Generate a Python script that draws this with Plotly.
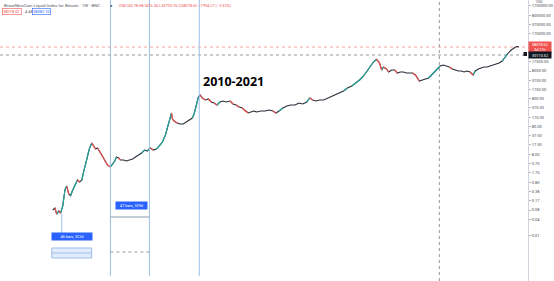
import math
import plotly.graph_objects as go

# ---- data (weekly closes, decimal years) ----
years = [2010.55, 2010.60, 2010.64, 2010.69, 2010.73, 2010.78, 2010.83, 2010.87, 2010.92, 2010.96,
         2011.01, 2011.08, 2011.12, 2011.17, 2011.22, 2011.26, 2011.31, 2011.35, 2011.40, 2011.45,
         2011.49, 2011.54, 2011.58, 2011.63, 2011.68, 2011.72, 2011.77, 2011.81, 2011.88, 2011.93,
         2011.98, 2012.02, 2012.07, 2012.11, 2012.18, 2012.25, 2012.32, 2012.39, 2012.46, 2012.53,
         2012.60, 2012.67, 2012.73, 2012.80, 2012.87, 2012.94, 2013.01, 2013.08, 2013.15, 2013.19,
         2013.24, 2013.29, 2013.31, 2013.35, 2013.42, 2013.49, 2013.56, 2013.63, 2013.70, 2013.77,
         2013.81, 2013.86, 2013.91, 2013.95, 2014.00, 2014.07, 2014.14, 2014.21, 2014.27, 2014.34,
         2014.41, 2014.48, 2014.55, 2014.64, 2014.71, 2014.78, 2014.85, 2014.92, 2014.99, 2015.06,
         2015.12, 2015.19, 2015.26, 2015.35, 2015.45, 2015.54, 2015.63, 2015.70, 2015.77, 2015.86,
         2015.95, 2016.04, 2016.14, 2016.23, 2016.32, 2016.41, 2016.48, 2016.55, 2016.62, 2016.71,
         2016.80, 2016.90, 2016.99, 2017.08, 2017.17, 2017.26, 2017.35, 2017.45, 2017.54, 2017.63,
         2017.72, 2017.81, 2017.88, 2017.95, 2018.02, 2018.09, 2018.14, 2018.18, 2018.25, 2018.30,
         2018.37, 2018.44, 2018.50, 2018.57, 2018.64, 2018.71, 2018.78, 2018.85, 2018.92, 2018.96,
         2019.01, 2019.08, 2019.15, 2019.22, 2019.29, 2019.36, 2019.42, 2019.49, 2019.56, 2019.63,
         2019.70, 2019.77, 2019.84, 2019.91, 2019.98, 2020.04, 2020.11, 2020.18, 2020.25, 2020.30,
         2020.37, 2020.44, 2020.50, 2020.57, 2020.64, 2020.71, 2020.78, 2020.85, 2020.92, 2020.99,
         2021.03, 2021.08, 2021.13, 2021.17, 2021.22, 2021.26, 2021.31]
prices = [0.080, 0.094, 0.057, 0.074, 0.062, 0.111, 0.42, 0.58, 0.30, 0.26,
          0.42, 0.69, 0.96, 0.81, 0.96, 1.86, 3.61, 7.0, 13.6, 20.6,
          16.0, 12.5, 13.6, 10.6, 7.6, 5.9, 4.26, 3.33, 2.82, 3.61,
          4.63, 6.45, 5.94, 5.03, 5.03, 4.63, 5.03, 5.47, 6.45, 7.6,
          9.0, 11.5, 10.6, 13.6, 11.5, 12.5, 16.0, 22.3, 39.9, 71.0,
          127.0, 247.0, 150.0, 127.0, 108.0, 99.0, 99.0, 117.0, 138.0, 163.0,
          227.0, 441.0, 929.0, 1096.0, 855.0, 724.0, 787.0, 614.0, 565.0, 479.0,
          614.0, 667.0, 614.0, 667.0, 520.0, 479.0, 406.0, 374.0, 291.0, 247.0,
          268.0, 291.0, 268.0, 291.0, 291.0, 316.0, 291.0, 247.0, 291.0, 374.0,
          441.0, 479.0, 479.0, 565.0, 520.0, 614.0, 855.0, 724.0, 667.0, 724.0,
          724.0, 855.0, 929.0, 1096.0, 1293.0, 1526.0, 1957.0, 2310.0, 2960.0, 3796.0,
          5287.0, 8000.0, 12106.0, 16857.0, 21000.0, 15521.0, 8692.0, 11143.0, 9441.0, 7366.0,
          8692.0, 8692.0, 6781.0, 7366.0, 7366.0, 6781.0, 6781.0, 6781.0, 5744.0, 4480.0,
          3494.0, 3796.0, 4124.0, 4480.0, 5744.0, 7366.0, 9441.0, 12106.0, 13150.0, 12106.0,
          11143.0, 9441.0, 8692.0, 8000.0, 8000.0, 7366.0, 8000.0, 7366.0, 5744.0, 8000.0,
          9441.0, 10257.0, 11143.0, 11143.0, 12106.0, 13150.0, 14286.0, 15521.0, 18314.0, 25512.0,
          32714.0, 38604.0, 45549.0, 52000.0, 57000.0, 61000.0, 58078.62]

last_price = 58078.62
crosshair_price = 30110.52
crosshair_year = 2019.47
range_lines = [2011.88, 2012.78, 2013.93]

ytick_vals = [0.01, 0.0375, 0.08, 0.175, 0.375, 0.8, 1.75, 3.75, 8, 17.5, 37.5, 80, 175,
              375, 800, 1750, 3750, 8000, 17500, 175000, 375000, 800000, 1750000]
ytick_text = ["0.01", "0.04", "0.08", "0.17", "0.38", "0.80", "1.75", "3.75", "8.00", "17.50",
              "37.50", "80.00", "175.00", "375.00", "800.00", "1750.00", "3750.00", "8000.00",
              "17500.00", "175000.00", "375000.00", "800000.00", "1750000.00"]

X_RANGE = [2009.332, 2021.516]
Y_RANGE = [-3.65087, 6.45705]
H = 281.0


def py(px):
    return 1 - px / H


fig = go.Figure()

# horizontal price line and crosshair
fig.add_trace(go.Scatter(x=X_RANGE, y=[last_price, last_price], mode="lines",
                         line=dict(color="#f4a3a1", width=1, dash="dot"), hoverinfo="skip"))
fig.add_trace(go.Scatter(x=X_RANGE, y=[crosshair_price, crosshair_price], mode="lines",
                         line=dict(color="#9598a1", width=1, dash="dot"), hoverinfo="skip"))

# base price line
fig.add_trace(go.Scatter(x=years, y=prices, mode="lines",
                         line=dict(color="#2a2e39", width=1.1), hoverinfo="skip"))

gx, gy, rx, ry = [], [], [], []
for i in range(1, len(years)):
    d = math.log10(prices[i] / prices[i - 1])
    if d > 0.09:
        gx += [years[i - 1], years[i], None]
        gy += [prices[i - 1], prices[i], None]
    elif d < -0.07:
        rx += [years[i - 1], years[i], None]
        ry += [prices[i - 1], prices[i], None]
fig.add_trace(go.Scatter(x=gx, y=gy, mode="lines", line=dict(color="#26a69a", width=1.2),
                         connectgaps=False, hoverinfo="skip"))
fig.add_trace(go.Scatter(x=rx, y=ry, mode="lines", line=dict(color="#ef5350", width=1.2),
                         connectgaps=False, hoverinfo="skip"))

shapes = []
for t in range_lines:
    shapes.append(dict(type="line", xref="x", yref="paper", x0=t, x1=t, y0=py(276), y1=1,
                       line=dict(color="#9cc0e6", width=1)))
shapes.append(dict(type="line", xref="x", yref="paper", x0=crosshair_year, x1=crosshair_year,
                   y0=0, y1=1, line=dict(color="#9598a1", width=1, dash="dot")))
# date range tool 2
shapes.append(dict(type="line", xref="x", yref="paper", x0=range_lines[0], x1=range_lines[1],
                   y0=py(217), y1=py(217), line=dict(color="#8a9ab0", width=1)))
shapes.append(dict(type="line", xref="x", yref="paper", x0=range_lines[0], x1=range_lines[1],
                   y0=py(252), y1=py(252), line=dict(color="#9598a1", width=1, dash="dot")))
# date range tool 1
shapes.append(dict(type="rect", xref="x", yref="paper", x0=2010.527, x1=2011.447,
                   y0=py(258), y1=py(248), fillcolor="rgba(41,98,255,0.13)",
                   line=dict(color="#9cc0e6", width=1)))
shapes.append(dict(type="line", xref="x", yref="paper", x0=2010.527, x1=2011.447,
                   y0=py(253), y1=py(253), line=dict(color="#9cc0e6", width=1)))
shapes.append(dict(type="line", xref="x", yref="paper", x0=2010.757, x1=2010.757,
                   y0=py(238), y1=py(214), line=dict(color="#9cc0e6", width=1)))
# crosshair icon
shapes.append(dict(type="rect", xref="paper", yref="paper", x0=525.5 / 530, x1=529 / 530,
                   y0=py(56), y1=py(52), fillcolor="#131722", line=dict(width=0)))

ann = []
F = "Roboto"
ann.append(dict(text="<b>2010-2021</b>", x=2014.71, y=py(70.5), xref="x", yref="paper",
                showarrow=False, font=dict(family="Open Sans", size=12.5, color="#000000")))
ann.append(dict(text="BraveNewCoin Liquid Index for Bitcoin · 1W · BNC", x=2 / 530, y=py(5.5),
                xref="paper", yref="paper", xanchor="left", yanchor="middle", showarrow=False,
                font=dict(family=F, size=4.4, color="#555a66")))
ann.append(dict(text="●", x=108.5 / 530, y=py(5), xref="paper", yref="paper", xanchor="left",
                yanchor="middle", showarrow=False, font=dict(family=F, size=4, color="#26325a")))
ann.append(dict(text="O56160.78 H61416.36 L53703.76 C58078.62 −1994.27 (−3.32%)",
                x=117 / 530, y=py(5.5), xref="paper", yref="paper", xanchor="left",
                yanchor="middle", showarrow=False, font=dict(family=F, size=3.9, color="#ef5350")))
ann.append(dict(text="58078.62", x=2 / 530, y=py(12), xref="paper", yref="paper",
                xanchor="left", yanchor="middle", showarrow=False, bordercolor="#ef5350",
                borderwidth=0.6, borderpad=0.6, bgcolor="white",
                font=dict(family=F, size=3.9, color="#ef5350")))
ann.append(dict(text="4.48", x=23 / 530, y=py(12), xref="paper", yref="paper",
                xanchor="left", yanchor="middle", showarrow=False,
                font=dict(family=F, size=3.9, color="#555a66")))
ann.append(dict(text="58082.10", x=32 / 530, y=py(12), xref="paper", yref="paper",
                xanchor="left", yanchor="middle", showarrow=False, bordercolor="#2962ff",
                borderwidth=0.6, borderpad=0.6, bgcolor="white",
                font=dict(family=F, size=3.9, color="#2962ff")))
# price scale labels
ann.append(dict(text="58078.62<br>3d 21h", x=1, y=math.log10(last_price), xref="paper",
                yref="y", xanchor="left", yanchor="middle", showarrow=False, align="center",
                bgcolor="#ef5350", width=21, borderpad=0.4,
                font=dict(family=F, size=3.8, color="white")))
ann.append(dict(text="30110.52", x=1, y=math.log10(crosshair_price), xref="paper",
                yref="y", xanchor="left", yanchor="middle", showarrow=False,
                bgcolor="#131722", width=21, borderpad=0.6,
                font=dict(family=F, size=3.8, color="white")))
ann.append(dict(text="USD", x=1.012, y=py(2), xref="paper", yref="paper", xanchor="left",
                yanchor="middle", showarrow=False, font=dict(family=F, size=3.5, color="#555a66")))
# date range labels
ann.append(dict(text="46 bars, 322d", x=2010.998, y=py(241), xref="x", yref="paper",
                showarrow=False, bgcolor="#2962ff", width=39, height=6, borderpad=0.5,
                font=dict(family=F, size=3.8, color="white")))
ann.append(dict(text="47 bars, 329d", x=2012.37, y=py(209.5), xref="x", yref="paper",
                showarrow=False, bgcolor="#2962ff", width=30, height=6, borderpad=0.5,
                font=dict(family=F, size=3.8, color="white")))

fig.update_layout(
    width=554, height=281, margin=dict(l=0, r=24, t=0, b=0),
    paper_bgcolor="white", plot_bgcolor="white", showlegend=False,
    shapes=shapes, annotations=ann,
    xaxis=dict(range=X_RANGE, visible=False, fixedrange=True),
    yaxis=dict(type="log", range=Y_RANGE, side="right", tickvals=ytick_vals,
               ticktext=ytick_text, showgrid=False, zeroline=False, showline=True,
               linecolor="#d1d4dc", linewidth=1, ticks="outside", ticklen=2,
               tickcolor="#b2b5be", tickfont=dict(family=F, size=4, color="#4a4e59"),
               fixedrange=True),
)

fig.write_html("out.html")
